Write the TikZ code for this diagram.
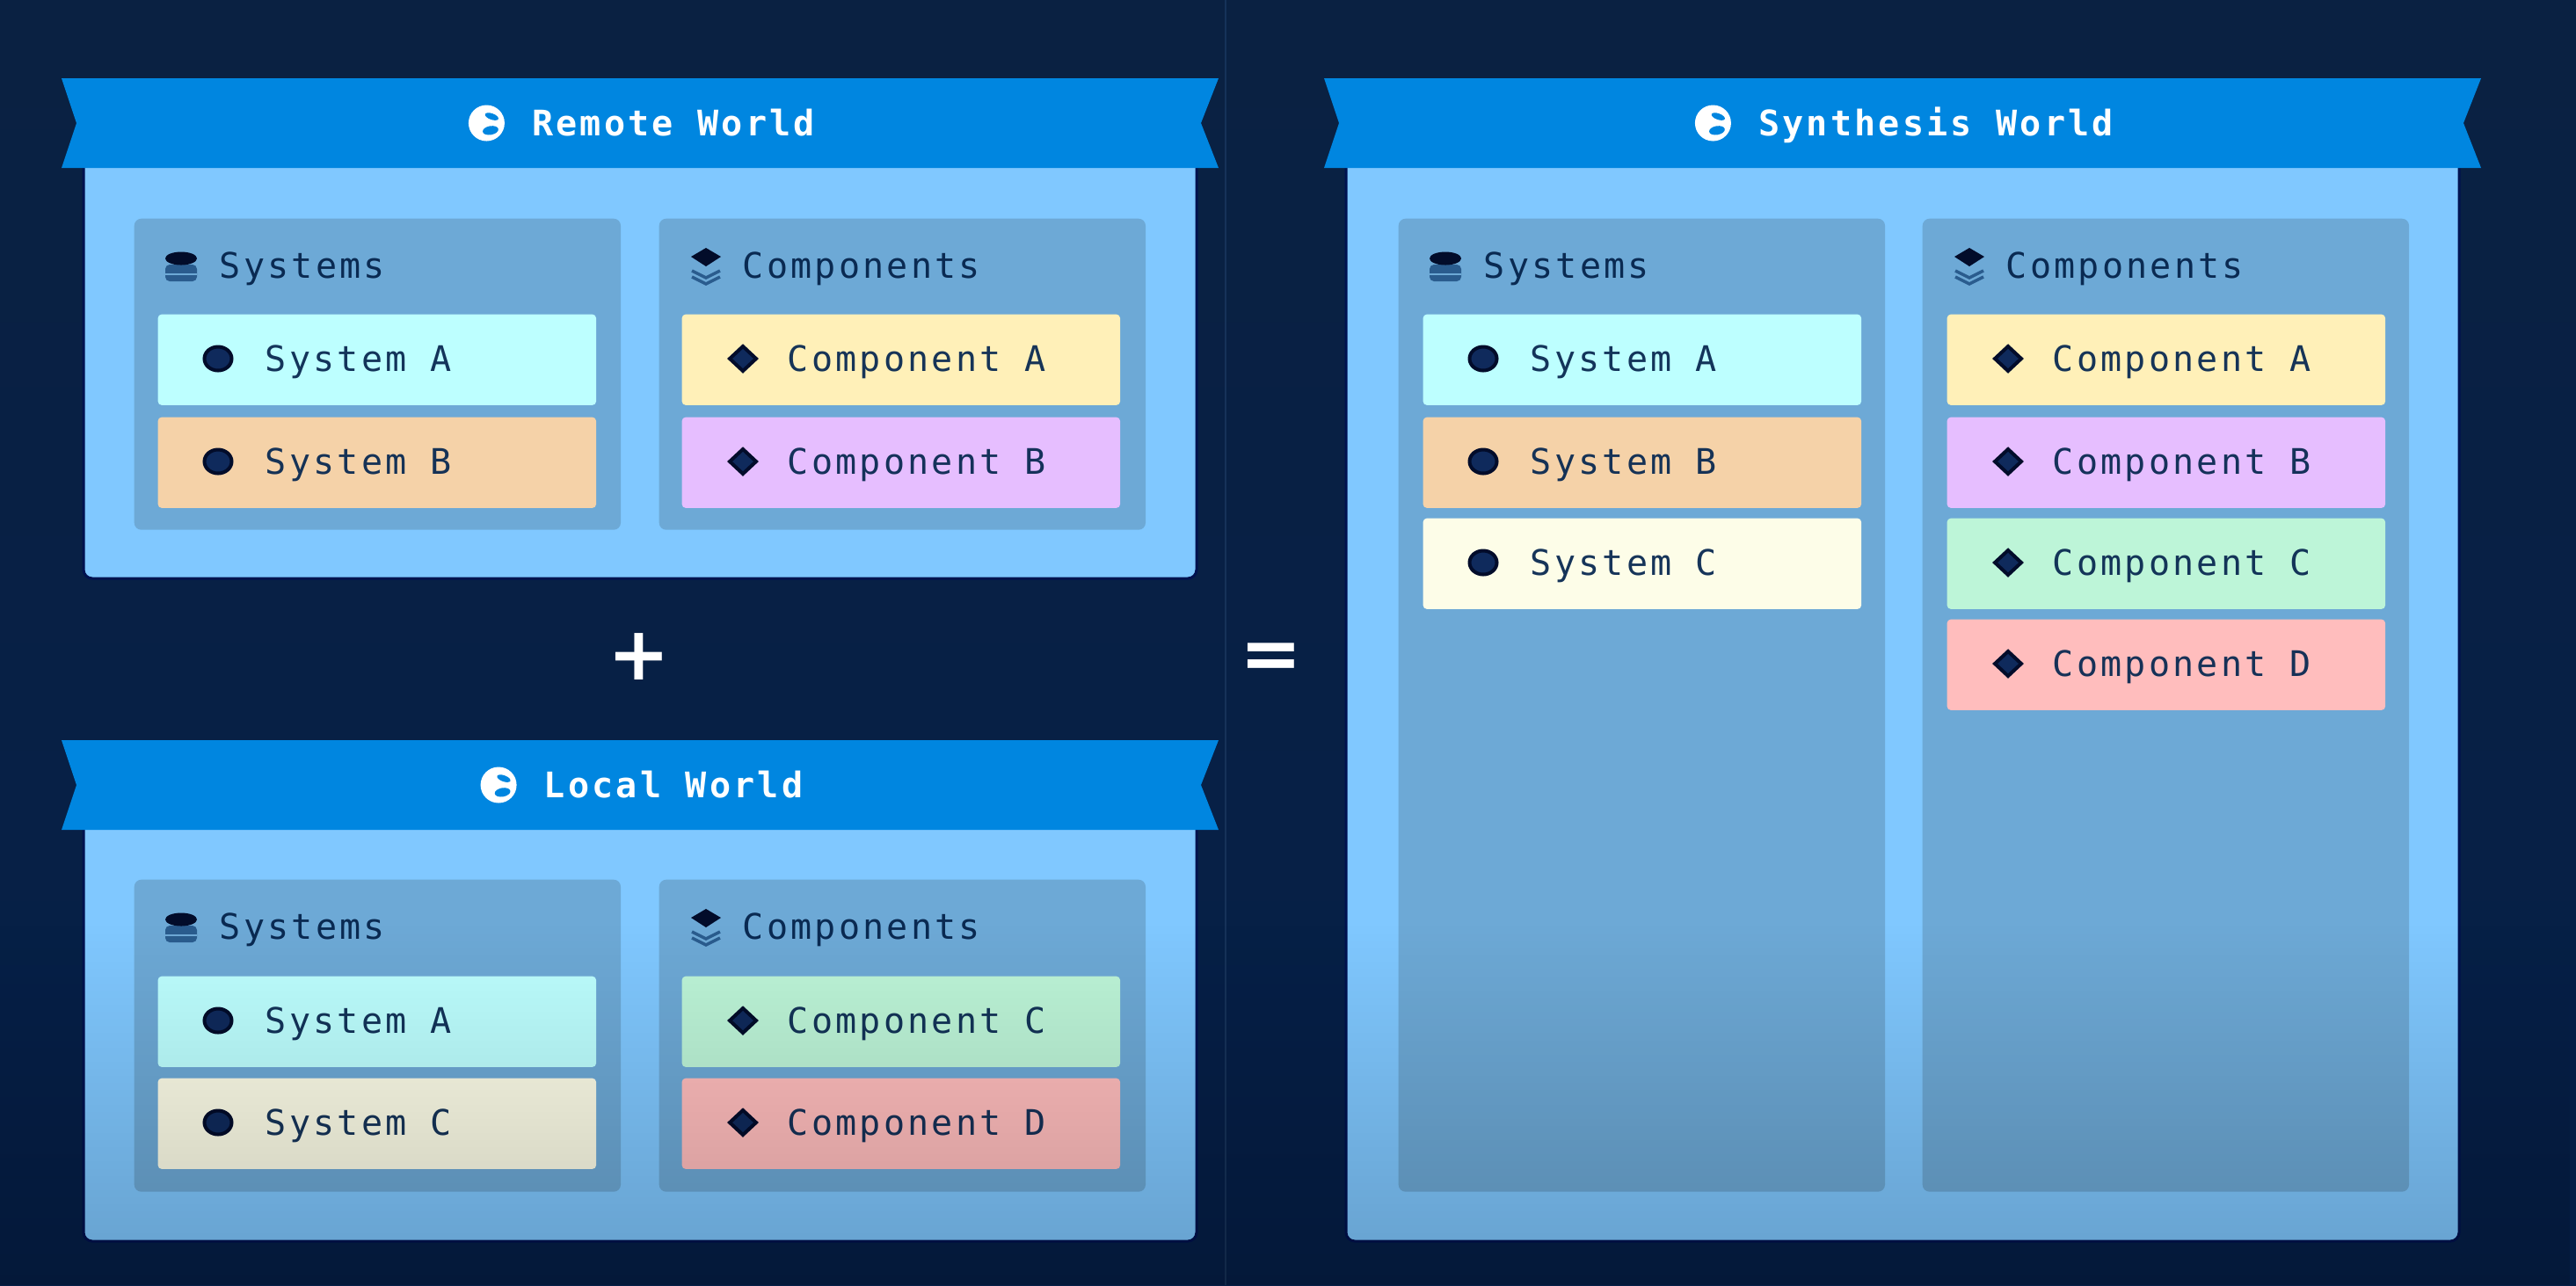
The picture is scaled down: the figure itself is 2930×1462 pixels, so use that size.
\documentclass[tikz,border=0pt]{standalone}
\usepackage{fontspec}
\setmainfont[LetterSpace=8]{DejaVu Sans Mono}
\newfontfamily\signfont{DejaVu Sans}
\usepackage{tikz}
\usetikzlibrary{
    fadings
}

\definecolor{bgtop}{HTML}{0A2142}
\definecolor{bgmid}{HTML}{05234D}
\definecolor{bgbot}{HTML}{051F48}
\definecolor{edgenavy}{HTML}{00124F}
\definecolor{ribbon}{HTML}{0086E0}
\definecolor{worldbg}{HTML}{80C8FF}
\definecolor{panelbg}{HTML}{6DA9D6}
\definecolor{inkblue}{HTML}{0A2A52}
\definecolor{inkdark}{HTML}{020C2A}
\definecolor{inkmid}{HTML}{2A5C8E}
\definecolor{markfill}{HTML}{0F2A5C}
\definecolor{cyanA}{HTML}{BDFFFF}
\definecolor{orangeB}{HTML}{F5D2A8}
\definecolor{creamC}{HTML}{FDFDE8}
\definecolor{yellowA}{HTML}{FFF0B8}
\definecolor{purpleB}{HTML}{E6BEFF}
\definecolor{greenC}{HTML}{BDF5D8}
\definecolor{redD}{HTML}{FFBDBD}

\tikzset{
    monofont/.style={inner sep=0pt, text height=0.36cm, text depth=0.07cm, font=\fontsize{11.4pt}{14pt}\selectfont},
    worldtitle/.style={monofont, text=white, font=\fontsize{11.4pt}{14pt}\selectfont\bfseries},
    panelbox/.style={anchor=north west, fill=panelbg, rounded corners=0.08cm, inner sep=0pt, minimum width=5.53cm},
    paneltitle/.style={monofont, anchor=west, text=inkblue},
    itembox/.style={anchor=north west, rounded corners=0.04cm, inner sep=0pt, minimum width=4.98cm, minimum height=1.03cm},
    itemtext/.style={monofont, anchor=west, text=inkblue, text opacity=0.95},
    signtext/.style={inner sep=0pt, text=white, font=\signfont\bfseries\fontsize{24pt}{24pt}\selectfont},
    globeicon/.pic={
        \fill[white] (0,0) circle (20.5);
        \fill[ribbon, rotate=-20] (3,-9) ellipse (8 and 3.5);
        \fill[ribbon, rotate=10] (3,9) ellipse (9 and 5);
    },
    stackicon/.pic={
        \fill[inkmid, rounded corners=0.05cm] (-18,-2) rectangle (18,17);
        \draw[panelbg, line width=0.02cm] (-18,9) -- (18,9);
        \fill[inkdark] (0,-9) ellipse (18 and 7.5);
    },
    layericon/.pic={
        \draw[inkmid, line width=0.035cm] (-16,5) -- (0,13) -- (16,5);
        \draw[inkmid, line width=0.035cm] (-16,12) -- (0,20) -- (16,12);
        \fill[inkdark] (-17,-11) -- (0,-21) -- (17,-11) -- (0,0) -- cycle;
    },
    dotmark/.pic={
        \fill[markfill, draw=inkdark, line width=0.04cm] (0,0) ellipse (15.5 and 13.5);
    },
    diamondmark/.pic={
        \fill[markfill, draw=inkdark, line width=0.04cm] (-15,0) -- (0,-14) -- (15,0) -- (0,14) -- cycle;
    }
}

\begin{document}
\begin{tikzpicture}[x=0.01cm, y=-0.01cm]

% Background
\useasboundingbox (0,0) rectangle (2930,1462);
\shade[top color=bgtop, middle color=bgmid, bottom color=bgbot] (0,0) rectangle (2930,1462);
\draw[color=bgmid!93!white, line width=0.02cm] (1394,0) -- (1394,1462);

% Worlds
\foreach \bx/\by/\wbot/\wname/\wtext in {
    70/89/658/remote/Remote World,
    70/842/1412/local/Local World,
    1506/89/1412/synth/Synthesis World} {
    \fill[worldbg, draw=edgenavy, line width=0.03cm, rounded corners=0.1cm] ({\bx+25},{\by+60}) rectangle ({\bx+1291},\wbot);
    \fill[ribbon] (\bx,\by) -- ({\bx+1316},\by) -- ({\bx+1296},{\by+51}) -- ({\bx+1316},{\by+102})
        -- (\bx,{\by+102}) -- ({\bx+17},{\by+51}) -- cycle;
    \node[worldtitle] (\wname) at ({\bx+696},{\by+51}) {\wtext};
    \pic at ([xshift=-0.51cm]\wname.west) {globeicon};
}

% Systems panels
\foreach \px/\py/\ph/\pname in {152/248/354/a, 152/1000/355/b, 1590/248/1107/c} {
    \node[panelbox, minimum height=\ph*0.01cm] (sys\pname) at (\px,\py) {};
    \pic at ({\px+54},{\py+55}) {stackicon};
    \node[paneltitle] (systitle\pname) at ({\px+97},{\py+54}) {Systems};
}

% Components panels
\foreach \px/\py/\ph/\pname in {749/248/354/a, 749/1000/355/b, 2186/248/1107/c} {
    \node[panelbox, minimum height=\ph*0.01cm] (comp\pname) at (\px,\py) {};
    \pic at ({\px+54},{\py+55}) {layericon};
    \node[paneltitle] (comptitle\pname) at ({\px+95},{\py+54}) {Components};
}

% System items
\foreach \ix/\iy/\icol/\iname/\itxt in {
    179/357/cyanA/ra/System A,
    179/474/orangeB/rb/System B,
    179/1110/cyanA/la/System A,
    179/1226/creamC/lc/System C,
    1618/357/cyanA/sa/System A,
    1618/474/orangeB/sb/System B,
    1618/589/creamC/sc/System C} {
    \node[itembox, fill=\icol] (item\iname) at (\ix,\iy) {};
    \pic at ({\ix+69},{\iy+51}) {dotmark};
    \node[itemtext] (text\iname) at ({\ix+122},{\iy+51}) {\itxt};
}

% Component items
\foreach \ix/\iy/\icol/\iname/\itxt in {
    775/357/yellowA/rca/Component A,
    775/474/purpleB/rcb/Component B,
    775/1110/greenC/lcc/Component C,
    775/1226/redD/lcd/Component D,
    2214/357/yellowA/sca/Component A,
    2214/474/purpleB/scb/Component B,
    2214/589/greenC/scc/Component C,
    2214/704/redD/scd/Component D} {
    \node[itembox, fill=\icol] (item\iname) at (\ix,\iy) {};
    \pic at ({\ix+70},{\iy+51}) {diamondmark};
    \node[itemtext] (text\iname) at ({\ix+120},{\iy+51}) {\itxt};
}

% Signs
\node[signtext] (plussign) at (727,747) {+};
\node[signtext] (equalsign) at (1446,752) {=};

% Darker towards the bottom
\fill[black, opacity=0.2, path fading=north] (0,1050) rectangle (2930,1462);

\end{tikzpicture}
\end{document}
